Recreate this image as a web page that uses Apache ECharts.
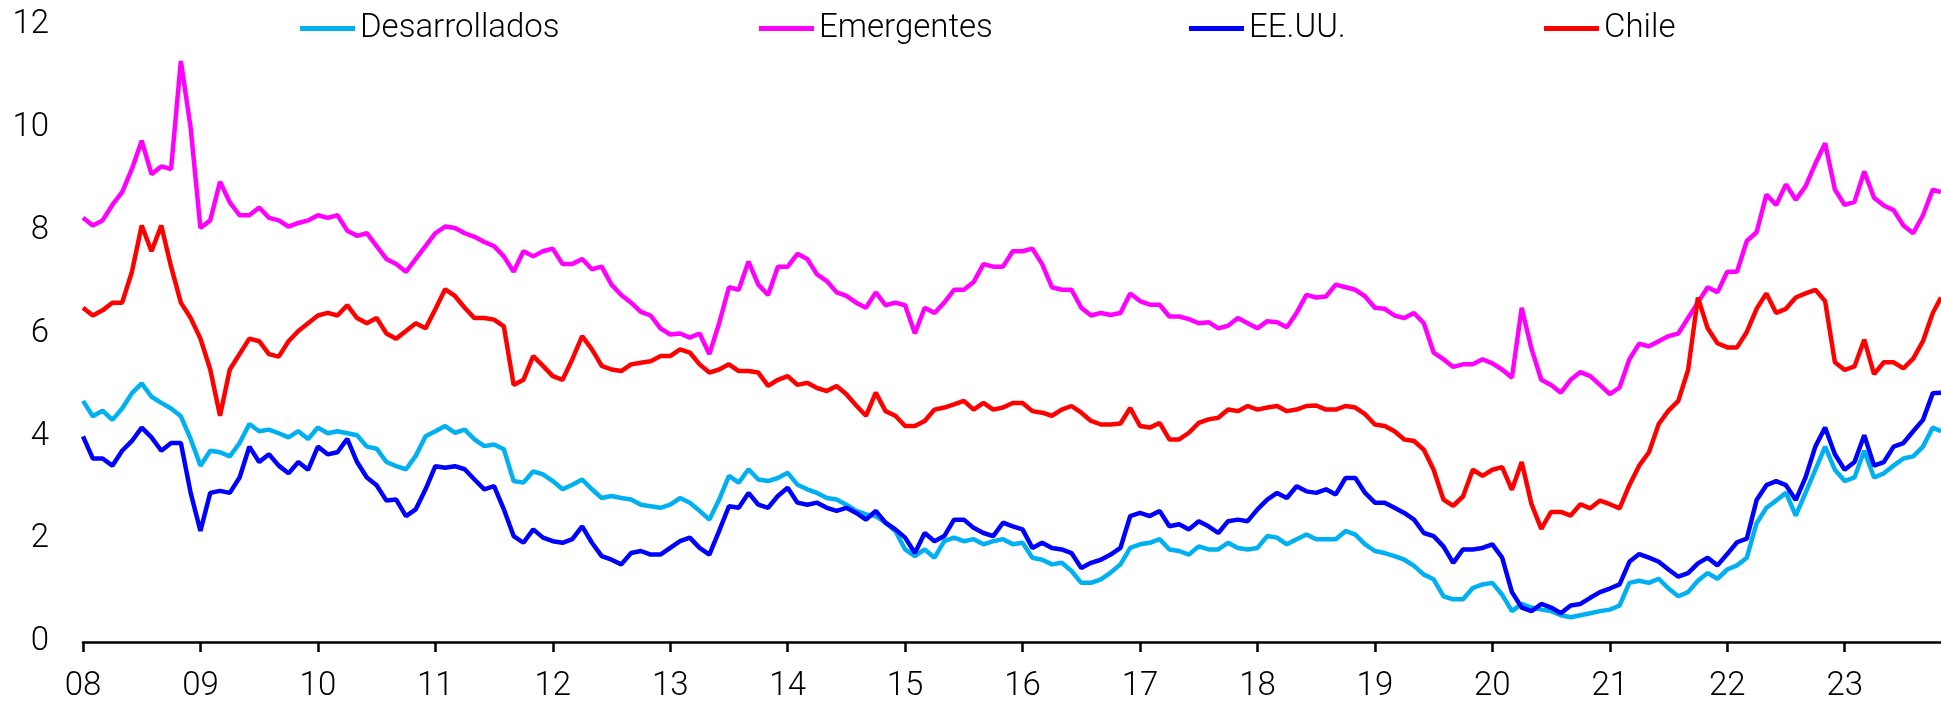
<!DOCTYPE html>
<html style="height: 100%">
<head>
    <meta charset="utf-8">
    <script src="https://cdn.jsdelivr.net/npm/echarts@6/dist/echarts.min.js"></script>
</head>
<body style="height: 100%; margin: 0; background: #fff">
<div id="container" style="width: 1941px; height: 707px"></div>
<script type="text/javascript">
// monthly readings, Jan 2008 .. Oct 2023, plus the last day shown (~end Oct 2023)
var yearTicks = [2008, 2009, 2010, 2011, 2012, 2013, 2014, 2015, 2016, 2017, 2018, 2019, 2020, 2021, 2022, 2023];
var lastDay = 2023.82;

var desarrollados = [
    4.69, 4.39, 4.5, 4.32, 4.54, 4.84, 5.03, 4.77, 4.65, 4.54, 4.39, 3.95,
    3.43, 3.72, 3.69, 3.61, 3.87, 4.24, 4.1, 4.13, 4.06, 3.98, 4.1, 3.95,
    4.17, 4.06, 4.1, 4.06, 4.02, 3.8, 3.76, 3.5, 3.42, 3.36, 3.62, 4.0,
    4.1, 4.2, 4.07, 4.13, 3.94, 3.81, 3.84, 3.75, 3.13, 3.1, 3.32, 3.26,
    3.13, 2.97, 3.06, 3.16, 2.97, 2.8, 2.84, 2.8, 2.77, 2.67, 2.64, 2.61,
    2.67, 2.8, 2.71, 2.55, 2.38, 2.77, 3.23, 3.1, 3.36, 3.16, 3.13, 3.19,
    3.29, 3.06, 2.97, 2.9, 2.8, 2.77, 2.67, 2.55, 2.48, 2.45, 2.32, 2.16,
    1.8, 1.67, 1.8, 1.64, 1.96, 2.03, 1.96, 2.0, 1.9, 1.96, 2.0, 1.9,
    1.93, 1.64, 1.6, 1.51, 1.54, 1.38, 1.15, 1.15, 1.22, 1.35, 1.51, 1.83,
    1.9, 1.93, 2.0, 1.8, 1.77, 1.7, 1.86, 1.8, 1.8, 1.93, 1.83, 1.8,
    1.83, 2.06, 2.03, 1.9, 2.0, 2.09, 2.0, 2.0, 2.0, 2.16, 2.09, 1.9,
    1.77, 1.73, 1.67, 1.6, 1.48, 1.31, 1.22, 0.89, 0.83, 0.83, 1.05, 1.12,
    1.15, 0.92, 0.6, 0.74, 0.67, 0.63, 0.6, 0.52, 0.48, 0.52, 0.56, 0.6,
    0.63, 0.71, 1.15, 1.19, 1.15, 1.23, 1.04, 0.89, 0.97, 1.19, 1.34, 1.23,
    1.41, 1.49, 1.64, 2.31, 2.61, 2.75, 2.9, 2.46, 2.9, 3.35, 3.8, 3.35,
    3.13, 3.2, 3.72, 3.2, 3.28, 3.43, 3.57, 3.61, 3.8, 4.17, 4.1
];
var emergentes = [
    8.25, 8.1, 8.2, 8.5, 8.75, 9.2, 9.75, 9.1, 9.25, 9.2, 11.3, 10.0,
    8.05, 8.2, 8.95, 8.55, 8.3, 8.3, 8.45, 8.25, 8.2, 8.08, 8.15, 8.2,
    8.3, 8.25, 8.3, 8.0, 7.9, 7.95, 7.7, 7.45, 7.35, 7.2, 7.45, 7.7,
    7.95, 8.08, 8.05, 7.95, 7.88, 7.78, 7.7, 7.5, 7.2, 7.6, 7.5, 7.6,
    7.65, 7.35, 7.35, 7.45, 7.25, 7.3, 6.95, 6.75, 6.6, 6.42, 6.35, 6.1,
    5.98, 6.0, 5.92, 6.0, 5.6, 6.2, 6.9, 6.85, 7.4, 6.95, 6.75, 7.3,
    7.3, 7.55, 7.45, 7.15, 7.02, 6.8, 6.73, 6.6, 6.5, 6.8, 6.55, 6.6,
    6.55, 6.0, 6.5, 6.4, 6.6, 6.85, 6.85, 7.0, 7.35, 7.3, 7.3, 7.6,
    7.6, 7.65, 7.35, 6.9, 6.85, 6.85, 6.5, 6.35, 6.4, 6.36, 6.4, 6.78,
    6.63, 6.56, 6.56, 6.33, 6.33, 6.28, 6.2, 6.22, 6.1, 6.15, 6.3, 6.2,
    6.1, 6.24, 6.22, 6.12, 6.4, 6.75, 6.7, 6.72, 6.95, 6.9, 6.85, 6.72,
    6.5, 6.48, 6.35, 6.3, 6.4, 6.2, 5.63, 5.5, 5.35, 5.4, 5.4, 5.5,
    5.42, 5.3, 5.14, 6.5, 5.7, 5.1, 5.0, 4.85, 5.1, 5.25, 5.17, 5.0,
    4.82, 4.95, 5.5, 5.8, 5.75, 5.85, 5.95, 6.0, 6.3, 6.6, 6.9, 6.8,
    7.2, 7.2, 7.8, 7.97, 8.7, 8.5, 8.9, 8.6, 8.86, 9.3, 9.7, 8.8,
    8.5, 8.56, 9.15, 8.64, 8.49, 8.4, 8.1, 7.95, 8.3, 8.8, 8.75
];
var eeuu = [
    4.0, 3.57, 3.57, 3.43, 3.72, 3.91, 4.17, 3.98, 3.72, 3.87, 3.87, 2.9,
    2.16, 2.9, 2.94, 2.9, 3.2, 3.8, 3.5, 3.65, 3.43, 3.28, 3.5, 3.35,
    3.8, 3.65, 3.69, 3.95, 3.5, 3.2, 3.05, 2.75, 2.77, 2.45, 2.58, 2.97,
    3.42, 3.39, 3.42, 3.36, 3.16, 2.97, 3.03, 2.58, 2.06, 1.93, 2.19, 2.03,
    1.96, 1.93, 2.0, 2.25, 1.93, 1.67, 1.6, 1.51, 1.73, 1.77, 1.7, 1.7,
    1.83, 1.96, 2.03, 1.83, 1.7, 2.16, 2.64, 2.61, 2.9, 2.67, 2.61, 2.84,
    3.0, 2.71, 2.67, 2.71, 2.61, 2.55, 2.61, 2.51, 2.38, 2.55, 2.32, 2.19,
    2.03, 1.73, 2.12, 1.96, 2.06, 2.38, 2.38, 2.22, 2.12, 2.06, 2.32, 2.25,
    2.19, 1.83, 1.93, 1.83, 1.8, 1.73, 1.44, 1.54, 1.6, 1.7, 1.83, 2.45,
    2.51, 2.45, 2.55, 2.25, 2.29, 2.19, 2.35, 2.25, 2.12, 2.35, 2.38, 2.35,
    2.58, 2.77, 2.9, 2.8, 3.03, 2.93, 2.9, 2.97, 2.87, 3.19, 3.19, 2.9,
    2.71, 2.71, 2.61, 2.51, 2.38, 2.12, 2.06, 1.86, 1.54, 1.8, 1.8, 1.83,
    1.9, 1.64, 0.97, 0.67, 0.6, 0.74, 0.67, 0.56, 0.71, 0.74, 0.86, 0.97,
    1.04, 1.12, 1.56, 1.71, 1.64, 1.56, 1.41, 1.27, 1.34, 1.53, 1.64, 1.49,
    1.71, 1.94, 2.01, 2.76, 3.05, 3.13, 3.05, 2.76, 3.2, 3.8, 4.17, 3.65,
    3.35, 3.5, 4.02, 3.43, 3.5, 3.8, 3.87, 4.1, 4.32, 4.84, 4.85
];
var chile = [
    6.5, 6.35, 6.45, 6.6, 6.6, 7.2, 8.1, 7.6, 8.1, 7.3, 6.6, 6.3,
    5.9, 5.3, 4.4, 5.3, 5.6, 5.9, 5.85, 5.6, 5.55, 5.85, 6.05, 6.2,
    6.35, 6.4, 6.35, 6.55, 6.3, 6.2, 6.3, 6.0, 5.9, 6.05, 6.2, 6.1,
    6.47, 6.86, 6.73, 6.5, 6.3, 6.3, 6.27, 6.14, 5.0, 5.1, 5.56, 5.37,
    5.17, 5.1, 5.5, 5.95, 5.69, 5.37, 5.3, 5.27, 5.4, 5.43, 5.46, 5.56,
    5.56, 5.69, 5.63, 5.4, 5.24, 5.3, 5.4, 5.27, 5.27, 5.24, 4.98, 5.1,
    5.17, 5.0, 5.04, 4.94, 4.88, 4.98, 4.82, 4.6, 4.4, 4.85, 4.49, 4.4,
    4.2, 4.2, 4.3, 4.52, 4.56, 4.62, 4.69, 4.52, 4.65, 4.52, 4.56, 4.65,
    4.65, 4.49, 4.46, 4.4, 4.52, 4.59, 4.46, 4.3, 4.23, 4.23, 4.25, 4.55,
    4.2, 4.17, 4.26, 3.94, 3.94, 4.07, 4.26, 4.33, 4.36, 4.52, 4.49, 4.59,
    4.52, 4.56, 4.59, 4.49, 4.52, 4.59, 4.6, 4.52, 4.52, 4.59, 4.56, 4.43,
    4.23, 4.2, 4.1, 3.94, 3.91, 3.74, 3.35, 2.77, 2.65, 2.83, 3.35, 3.23,
    3.35, 3.4, 2.96, 3.5, 2.68, 2.2, 2.53, 2.53, 2.46, 2.68, 2.6, 2.75,
    2.68, 2.6, 3.05, 3.43, 3.69, 4.24, 4.5, 4.69, 5.29, 6.7, 6.1, 5.81,
    5.73, 5.73, 6.03, 6.48, 6.78, 6.4, 6.48, 6.7, 6.78, 6.85, 6.63, 5.44,
    5.29, 5.36, 5.88, 5.21, 5.44, 5.44, 5.32, 5.51, 5.85, 6.4, 6.7
];

// time in years: one point per month, then the last day
var t = [];
for (var i = 0; i < desarrollados.length - 1; i++) {
    t.push(2008 + i / 12);
}
t.push(lastDay);

function pairs(values) {
    return values.map(function (v, k) { return [t[k], v]; });
}

var font = 'Roboto, "Noto Sans", sans-serif';
var legendText = {fontFamily: font, fontSize: 33, fontWeight: 300, color: '#000'};

function legendFor(name, left) {
    return {
        data: [name], left: left, top: 7,
        icon: 'rect', itemWidth: 55, itemHeight: 5,
        textStyle: legendText
    };
}

function lineSeries(name, color, values) {
    return {
        name: name, type: 'line', data: pairs(values),
        showSymbol: false, symbol: 'none',
        lineStyle: {color: color, width: 4.5},
        itemStyle: {color: color},
        emphasis: {disabled: true}
    };
}

var myChart = echarts.init(document.getElementById('container'), null, {renderer: 'canvas'});

var option = {
    animation: false,
    backgroundColor: '#fff',
    legend: [
        legendFor('Desarrollados', 295),
        legendFor('Emergentes', 754),
        legendFor('EE.UU.', 1184),
        legendFor('Chile', 1539)
    ],
    grid: {left: 83, right: 0, top: 25, bottom: 65, containLabel: false},
    xAxis: {
        type: 'value',
        min: 2008, max: lastDay,
        splitLine: {show: false},
        axisLine: {show: true, lineStyle: {color: '#000', width: 2.5}},
        axisTick: {show: true, length: 10, lineStyle: {color: '#000', width: 2.5}, customValues: yearTicks},
        axisLabel: {
            customValues: yearTicks,
            margin: 28,
            fontFamily: font, fontSize: 33, fontWeight: 300, color: '#000',
            formatter: function (v) { return String(v).slice(2); }
        }
    },
    yAxis: {
        type: 'value',
        min: 0, max: 12, interval: 2,
        splitLine: {show: false},
        axisLine: {show: false},
        axisTick: {show: false},
        axisLabel: {margin: 34, fontFamily: font, fontSize: 33, fontWeight: 300, color: '#000'}
    },
    series: [
        lineSeries('Desarrollados', '#00B0F0', desarrollados),
        lineSeries('Emergentes', '#FF00FF', emergentes),
        lineSeries('EE.UU.', '#0000FF', eeuu),
        lineSeries('Chile', '#FF0000', chile)
    ]
};

myChart.setOption(option);
</script>
</body>
</html>
